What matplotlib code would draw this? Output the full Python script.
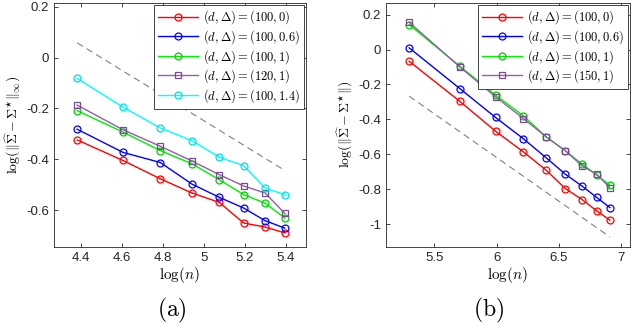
import numpy as np
import matplotlib
matplotlib.use("Agg")
import matplotlib.pyplot as plt

plt.rcParams['mathtext.fontset'] = 'cm'
plt.rcParams['font.family'] = ['Liberation Sans', 'DejaVu Sans']

# panel (a): n = 80..220
n_a = [80, 100, 120, 140, 160, 180, 200, 220]
a_red = [-0.324, -0.405, -0.477, -0.533, -0.570, -0.651, -0.667, -0.690]
a_blue = [-0.282, -0.373, -0.413, -0.498, -0.550, -0.592, -0.642, -0.671]
a_green = [-0.209, -0.293, -0.366, -0.418, -0.481, -0.539, -0.573, -0.631]
a_purple = [-0.187, -0.284, -0.349, -0.407, -0.461, -0.505, -0.533, -0.613]
a_cyan = [-0.082, -0.195, -0.277, -0.327, -0.392, -0.425, -0.514, -0.539]
a_ref = [0.058, -0.444]
a_labels = ['(100,0)', '(100,0.6)', '(100,1)', '(120,1)', '(100,1.4)']

# panel (b): n = 200..1000
n_b = [200, 300, 400, 500, 600, 700, 800, 900, 1000]
b_red = [-0.067, -0.296, -0.468, -0.586, -0.691, -0.796, -0.859, -0.924, -0.977]
b_blue = [0.010, -0.223, -0.389, -0.511, -0.620, -0.714, -0.782, -0.847, -0.905]
b_green = [0.143, -0.095, -0.261, -0.380, -0.500, -0.580, -0.656, -0.719, -0.777]
b_purple = [0.156, -0.099, -0.271, -0.395, -0.500, -0.580, -0.666, -0.714, -0.792]
b_ref = [-0.267, -1.073]
b_labels = ['(100,0)', '(100,0.6)', '(100,1)', '(150,1)']

purple = '#9060a8'
styles = [
    dict(color='#ff0000', marker='o', mec='#ff0000'),
    dict(color='#0000ff', marker='o', mec='#0000ff'),
    dict(color='#00ee00', marker='o', mec='#00cc00'),
    dict(color=purple, marker='s', mec='#7a4a90'),
    dict(color='#00ffff', marker='o', mec='#00e0e0'),
]


def draw(ax, n, series, labels, ref):
    x = np.log(n)
    ax.plot([x[0], x[-1]], ref, '--', color='#808080', lw=0.8, dashes=(6, 4))
    for ys, lab, st in zip(series, labels, styles):
        ax.plot(x, ys, lw=1.0, ms=5, mfc='none', mew=0.9,
                label=r'$(d,\Delta) = ' + lab + '$', **st)
    ax.tick_params(direction='in', top=True, right=True, labelsize=9.5,
                   length=3, width=0.6, colors='#262626')
    for s in ax.spines.values():
        s.set_color('#262626')
        s.set_linewidth(0.6)
    ax.set_xlabel(r'$\log(n)$', fontsize=11, labelpad=1)
    leg = ax.legend(loc='upper right', fontsize=9, handlelength=3.2,
                    borderpad=0.3, labelspacing=0.15, handletextpad=0.4,
                    borderaxespad=0.15, fancybox=False, framealpha=1)
    leg.get_frame().set_edgecolor('#262626')
    leg.get_frame().set_linewidth(0.6)


fig = plt.figure(figsize=(6.4, 3.27), dpi=100)
ax1 = fig.add_axes([0.084, 0.245, 0.394, 0.746])
ax2 = fig.add_axes([0.603, 0.245, 0.381, 0.746])

draw(ax1, n_a, [a_red, a_blue, a_green, a_purple, a_cyan], a_labels, a_ref)
ax1.set_xlim(4.268, 5.497)
ax1.set_ylim(-0.745, 0.215)
ax1.set_xticks([4.4, 4.6, 4.8, 5.0, 5.2, 5.4])
ax1.set_xticklabels(['4.4', '4.6', '4.8', '5', '5.2', '5.4'])
ax1.set_yticks([-0.6, -0.4, -0.2, 0, 0.2])
ax1.set_yticklabels(['-0.6', '-0.4', '-0.2', '0', '0.2'])
ax1.set_ylabel(r'$\log(\|\widehat{\boldsymbol{\Sigma}} - \boldsymbol{\Sigma}^{\star}\|_{\infty})$',
               fontsize=10, labelpad=2)

draw(ax2, n_b, [b_red, b_blue, b_green, b_purple], b_labels, b_ref)
ax2.set_xlim(5.112, 7.067)
ax2.set_ylim(-1.13, 0.267)
ax2.set_xticks([5.5, 6, 6.5, 7])
ax2.set_xticklabels(['5.5', '6', '6.5', '7'])
ax2.set_yticks([-1, -0.8, -0.6, -0.4, -0.2, 0, 0.2])
ax2.set_yticklabels(['-1', '-0.8', '-0.6', '-0.4', '-0.2', '0', '0.2'])
ax2.set_ylabel(r'$\log(\|\widehat{\boldsymbol{\Sigma}} - \boldsymbol{\Sigma}^{\star}\|)$',
               fontsize=10, labelpad=2)

fig.text(0.269, 0.052, r'$\mathrm{(a)}$', ha='center', va='center', fontsize=17)
fig.text(0.764, 0.052, r'$\mathrm{(b)}$', ha='center', va='center', fontsize=17)

fig.savefig('out.png', dpi=100)
